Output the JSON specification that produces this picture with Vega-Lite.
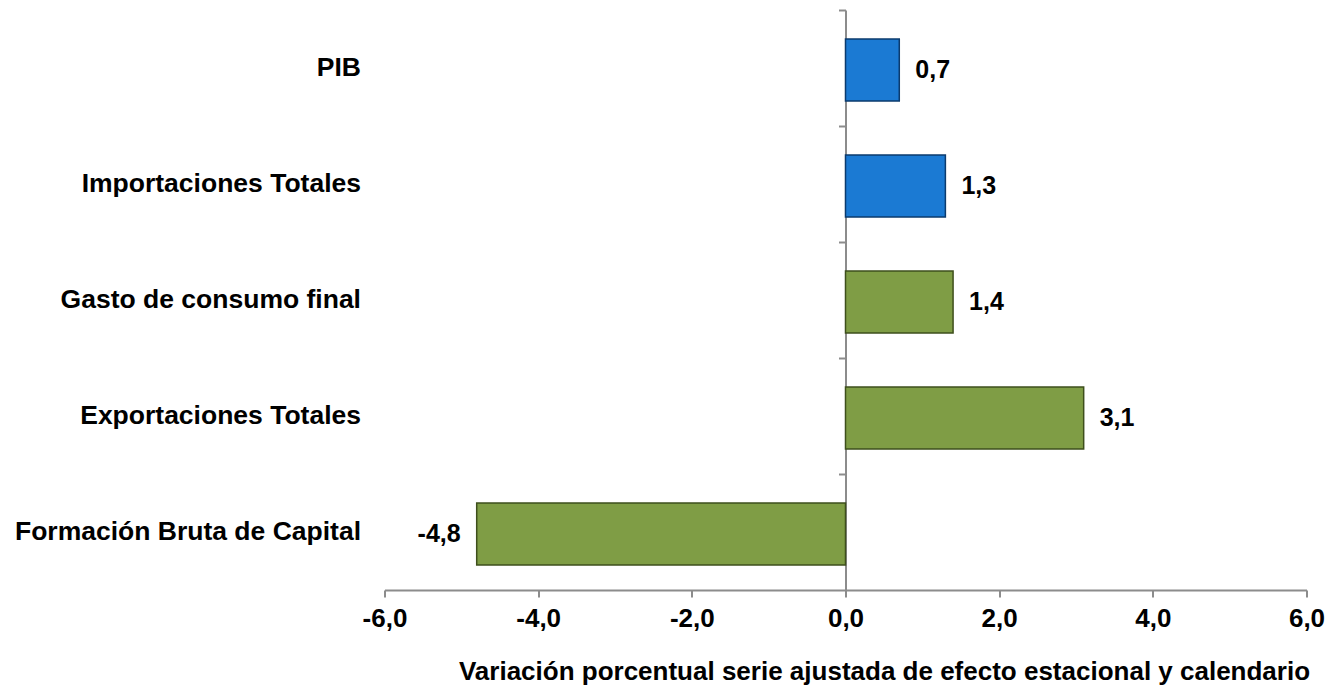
{
  "$schema": "https://vega.github.io/schema/vega-lite/v6.json",
  "autosize": "none",
  "width": 922,
  "height": 580,
  "padding": {"left": 384.5, "top": 10, "right": 20.5, "bottom": 97},
  "background": "white",
  "config": {
    "locale": {"number": {"decimal": ",", "thousands": ".", "grouping": [3], "currency": ["", " €"], "minus": "-"}},
    "font": "Liberation Sans",
    "view": {"stroke": null}
  },
  "data": {"values": [
    {"componente": "PIB", "valor": 0.7, "grupo": "oferta"},
    {"componente": "Importaciones Totales", "valor": 1.3, "grupo": "oferta"},
    {"componente": "Gasto de consumo final", "valor": 1.4, "grupo": "demanda"},
    {"componente": "Exportaciones Totales", "valor": 3.1, "grupo": "demanda"},
    {"componente": "Formación Bruta de Capital", "valor": -4.8, "grupo": "demanda"}
  ]},
  "encoding": {
    "y": {"field": "componente", "type": "nominal", "sort": null,
      "scale": {"paddingInner": 0, "paddingOuter": 0}},
    "x": {"field": "valor", "type": "quantitative",
      "scale": {"domain": [-6, 6], "nice": false, "zero": false},
      "axis": {"values": [-6, -4, -2, 0, 2, 4, 6], "format": ".1f", "grid": false,
        "domainColor": "#8c8c8c", "domainWidth": 2, "tickColor": "#8c8c8c", "tickWidth": 2, "tickSize": 7,
        "labelFont": "Liberation Sans", "labelFontSize": 26, "labelFontWeight": "bold", "labelColor": "black", "labelPadding": 8,
        "labelFlush": false,
        "title": "Variación porcentual serie ajustada de efecto estacional y calendario",
        "titleFont": "Liberation Sans", "titleFontSize": 26, "titleFontWeight": "bold", "titleColor": "black",
        "titlePadding": 27, "titleX": 499.5}}
  },
  "layer": [
    {
      "mark": {"type": "bar", "strokeWidth": 1.5, "height": {"band": 0.535}, "yOffset": 2},
      "encoding": {
        "color": {"field": "grupo", "type": "nominal", "legend": null,
          "scale": {"domain": ["oferta", "demanda"], "range": ["#1B7AD3", "#7F9D45"]}},
        "stroke": {"field": "grupo", "type": "nominal", "legend": null,
          "scale": {"domain": ["oferta", "demanda"], "range": ["#0B3B6E", "#3E4F1C"]}},
        "y": {"field": "componente", "type": "nominal", "sort": null,
          "axis": {"orient": "left", "title": null, "domain": false, "ticks": false, "labelLimit": 0,
            "labelFont": "Liberation Sans", "labelFontSize": 26.5, "labelFontWeight": "bold", "labelColor": "black",
            "labelPadding": 24}}
      }
    },
    {
      "transform": [{"filter": "datum.valor >= 0"}],
      "mark": {"type": "text", "align": "left", "baseline": "middle", "dx": 16, "dy": 2, "fontSize": 25, "fontWeight": "bold", "color": "black", "font": "Liberation Sans"},
      "encoding": {
        "text": {"field": "valor", "type": "quantitative", "format": ".1f"},
        "y": {"field": "componente", "type": "nominal", "sort": null,
          "axis": {"orient": "left", "title": null, "labels": false, "offset": -461,
            "bandPosition": 0, "domainColor": "#8c8c8c", "domainWidth": 2, "tickColor": "#8c8c8c", "tickWidth": 2, "tickSize": 7}}
      }
    },
    {
      "transform": [{"filter": "datum.valor < 0"}],
      "mark": {"type": "text", "align": "right", "baseline": "middle", "dx": -16, "dy": 2, "fontSize": 25, "fontWeight": "bold", "color": "black", "font": "Liberation Sans"},
      "encoding": {
        "text": {"field": "valor", "type": "quantitative", "format": ".1f"},
        "y": {"field": "componente", "type": "nominal", "sort": null, "axis": null}
      }
    }
  ],
  "resolve": {"axis": {"y": "independent"}}
}
